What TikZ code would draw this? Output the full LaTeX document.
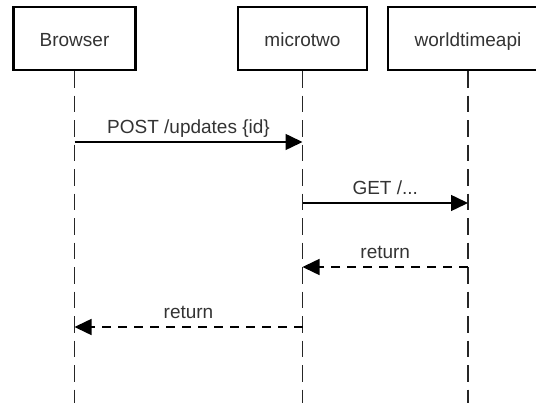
\documentclass[tikz,border=0pt]{standalone}
\usepackage{fontspec}
\setmainfont{Liberation Sans}
\usetikzlibrary{arrows.meta}
\begin{document}
\begin{tikzpicture}[x=1pt,y=-1pt,
  txt/.style={text=black!80, font=\fontsize{19}{23}\selectfont},
  actor/.style={txt, draw=black, line width=2.2pt, minimum height=63pt,
    inner sep=0pt, text height=16.5pt, text depth=0pt},
  lifeline/.style={draw=black!85, line width=1.7pt, dash pattern=on 16.5pt off 8pt},
  msg/.style={draw=black, line width=1.5pt, -{Triangle[length=17pt,width=16pt]}},
  reply/.style={msg, dash pattern=on 9pt off 7pt},
  lbl/.style={txt, inner sep=0pt, anchor=base, yshift=8pt}
]
\useasboundingbox (0,0) rectangle (536,403);

% participants
\node[actor, minimum width=122pt] (browser) at (74.5,38.5) {Browser};
\node[actor, minimum width=129pt] (micro) at (302.5,38.5) {microtwo};
\node[actor, minimum width=160pt] (wta) at (468,38.5) {worldtimeapi};

% lifelines
\coordinate (browserEnd) at (browser.south |- 0,403);
\coordinate (microEnd) at (micro.south |- 0,403);
\coordinate (wtaEnd) at (wta.south |- 0,403);
\draw[lifeline] (browser.south) -- (browserEnd);
\draw[lifeline] (micro.south) -- (microEnd);
\draw[lifeline] (wta.south) -- (wtaEnd);

% message end points on the lifelines
\coordinate (m1a) at (browser.south |- 0,142);
\coordinate (m1b) at (micro.south |- 0,142);
\coordinate (m2a) at (micro.south |- 0,203);
\coordinate (m2b) at (wta.south |- 0,203);
\coordinate (m3a) at (wta.south |- 0,267);
\coordinate (m3b) at (micro.south |- 0,267);
\coordinate (m4a) at (micro.south |- 0,327);
\coordinate (m4b) at (browser.south |- 0,327);

% messages
\draw[msg] (m1a) -- node[lbl] {POST /updates \{id\}} (m1b);
\draw[msg] (m2a) -- node[lbl] {GET /...} (m2b);
\draw[reply] (m3a) -- node[lbl] {return} (m3b);
\draw[reply] (m4a) -- node[lbl] {return} (m4b);
\end{tikzpicture}
\end{document}
